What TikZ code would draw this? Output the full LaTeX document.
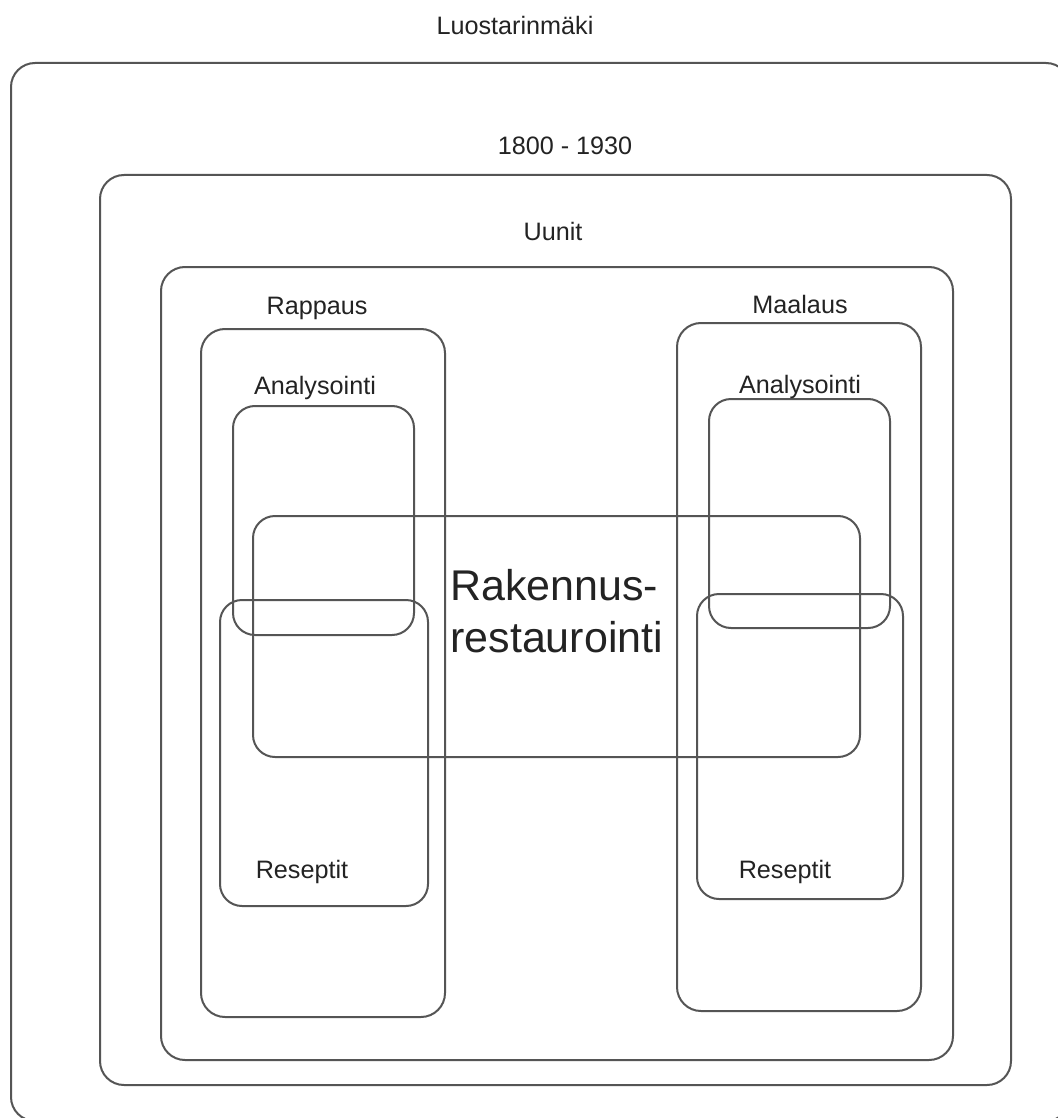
\documentclass[tikz,border=0pt]{standalone}
\usepackage{fontspec}
\setmainfont{Liberation Sans}
\usepackage{tikz}
\usetikzlibrary{positioning}
\definecolor{frame}{RGB}{85,85,85}
\definecolor{ink}{RGB}{35,35,35}

\begin{document}
\begin{tikzpicture}[
  x=0.5pt, y=-0.5pt,
  area/.style={draw=frame, line width=1pt, rounded corners=12pt},
  small/.style={draw=frame, line width=1pt, rounded corners=11pt},
  label/.style={font=\fontsize{12.6}{15}\selectfont, text=ink, inner sep=0pt},
  title/.style={font=\fontsize{21.5}{26}\selectfont, text=ink, inner sep=0pt,
                align=left, anchor=west},
]
  % page and frame
  \fill[white] (0,0) rectangle (1058,1118);
  \clip (0,0) rectangle (1058,1118);

  % nested areas
  \draw[area] (11,63) rectangle (1070,1121);     % Luostarinmaki
  \draw[area] (100,175) rectangle (1011,1085);   % 1800 - 1930
  \draw[area] (161,267) rectangle (953,1060);    % Uunit
  \draw[area] (201,329) rectangle (445,1017);    % Rappaus
  \draw[area] (677,323) rectangle (921,1011);    % Maalaus

  % sub areas
  \draw[small] (233,406) rectangle (414,635);    % Analysointi, left
  \draw[small] (220,600) rectangle (428,906);    % Reseptit, left
  \draw[small] (709,399) rectangle (890,628);    % Analysointi, right
  \draw[small] (697,594) rectangle (903,899);    % Reseptit, right
  \draw[small] (253,516) rectangle (860,757);    % Rakennusrestaurointi

  % labels
  \node[label] (luostari) at (515,25) {Luostarinmäki};
  \node[label] (aika) at (565,146) {1800 - 1930};
  \node[label] (uunit) at (553,231) {Uunit};
  \node[label] (rappaus) at (317,308) {Rappaus};
  \node[label] (maalaus) at (800,304) {Maalaus};
  \node[label] (analvasen) at (315,388) {Analysointi};
  \node[label] (analoikea) at (800,387) {Analysointi};
  \node[label] (resvasen) at (302,872) {Reseptit};
  \node[label] (resoikea) at (785,872) {Reseptit};
  \node[title] (rakennus) at (450,611) {Rakennus-\\restaurointi};
\end{tikzpicture}
\end{document}
